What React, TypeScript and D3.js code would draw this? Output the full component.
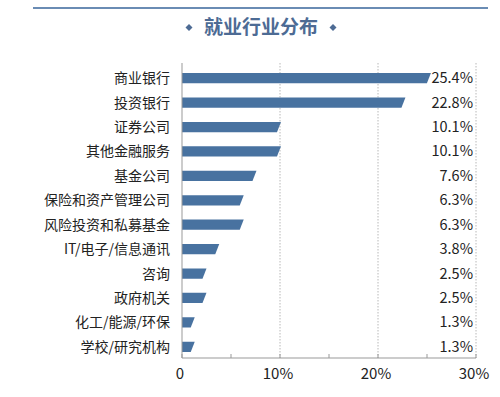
import React, { useEffect, useRef } from "react";
import * as d3 from "d3";

const categories = [
  "商业银行",
  "投资银行",
  "证券公司",
  "其他金融服务",
  "基金公司",
  "保险和资产管理公司",
  "风险投资和私募基金",
  "IT/电子/信息通讯",
  "咨询",
  "政府机关",
  "化工/能源/环保",
  "学校/研究机构",
];
const values = [25.4, 22.8, 10.1, 10.1, 7.6, 6.3, 6.3, 3.8, 2.5, 2.5, 1.3, 1.3];
const xTicks = [0, 10, 20, 30];
const title = "就业行业分布";

const W = 500;
const H = 397;
const font = "'Noto Sans CJK SC', 'Noto Sans', sans-serif";

export default function App() {
  const ref = useRef<SVGGElement>(null);

  useEffect(() => {
    const g = d3.select(ref.current);
    g.selectAll("*").remove();

    const x = d3.scaleLinear().domain([0, 30]).range([182, 476]);
    const y = d3.scaleBand<string>().domain(categories).range([66, 359]).paddingInner(0.58).paddingOuter(0.29);
    const axisY = 358;

    // top rule + title
    g.append("line")
      .attr("x1", 33).attr("x2", 488).attr("y1", 8).attr("y2", 8)
      .attr("stroke", "#6a8cb4").attr("stroke-width", 2.2);
    g.append("text")
      .text(title)
      .attr("x", 261).attr("y", 34)
      .attr("text-anchor", "middle")
      .attr("font-family", font).attr("font-weight", "bold")
      .attr("font-size", 19).attr("fill", "#4d6b94");
    [189, 333].forEach(cx => {
      g.append("path")
        .attr("d", `M${cx},${24} L${cx + 3.5},${27.5} L${cx},${31} L${cx - 3.5},${27.5} Z`)
        .attr("fill", "#4d6b94");
    });

    // gridlines
    g.selectAll(".grid")
      .data(xTicks.slice(1))
      .enter()
      .append("line")
      .attr("x1", d => x(d)).attr("x2", d => x(d))
      .attr("y1", 63).attr("y2", axisY)
      .attr("stroke", "#b8b8b8").attr("stroke-dasharray", "1.5,1.5");

    // bars with slanted ends
    g.selectAll(".bar")
      .data(values)
      .enter()
      .append("path")
      .attr("d", (d, i) => {
        const y0 = y(categories[i])!;
        const h = y.bandwidth();
        const xe = x(d);
        return `M${x(0)},${y0} L${xe},${y0} L${xe - 4},${y0 + h} L${x(0)},${y0 + h} Z`;
      })
      .attr("fill", "#4872a0");

    // value labels
    g.selectAll(".val")
      .data(values)
      .enter()
      .append("text")
      .text(d => d.toFixed(1) + "%")
      .attr("x", 473)
      .attr("y", (d, i) => y(categories[i])! + y.bandwidth() / 2 + 5)
      .attr("text-anchor", "end")
      .attr("font-family", font).attr("font-size", 14.5).attr("fill", "#222");

    // category labels
    g.selectAll(".cat")
      .data(categories)
      .enter()
      .append("text")
      .text(d => d)
      .attr("x", 170)
      .attr("y", d => y(d)! + y.bandwidth() / 2 + 5)
      .attr("text-anchor", "end")
      .attr("font-family", font).attr("font-size", 14).attr("fill", "#222");

    // axes
    g.append("line")
      .attr("x1", x(0)).attr("x2", x(0)).attr("y1", 63).attr("y2", axisY)
      .attr("stroke", "#999");
    g.append("line")
      .attr("x1", x(0)).attr("x2", x(30)).attr("y1", axisY).attr("y2", axisY)
      .attr("stroke", "#999");
    g.selectAll(".tick")
      .data(d3.range(0, 31, 5))
      .enter()
      .append("line")
      .attr("x1", d => x(d)).attr("x2", d => x(d))
      .attr("y1", axisY - 4).attr("y2", axisY)
      .attr("stroke", "#999");
    g.selectAll(".tl")
      .data(xTicks)
      .enter()
      .append("text")
      .text(d => (d === 0 ? "0" : d + "%"))
      .attr("x", d => x(d) - 2)
      .attr("y", 379)
      .attr("text-anchor", "middle")
      .attr("font-family", font).attr("font-size", 15).attr("fill", "#222");
  }, []);

  return (
    <svg width={W} height={H} style={{ position: "absolute", left: 0, top: 0, background: "#fff" }}>
      <g ref={ref} />
    </svg>
  );
}
